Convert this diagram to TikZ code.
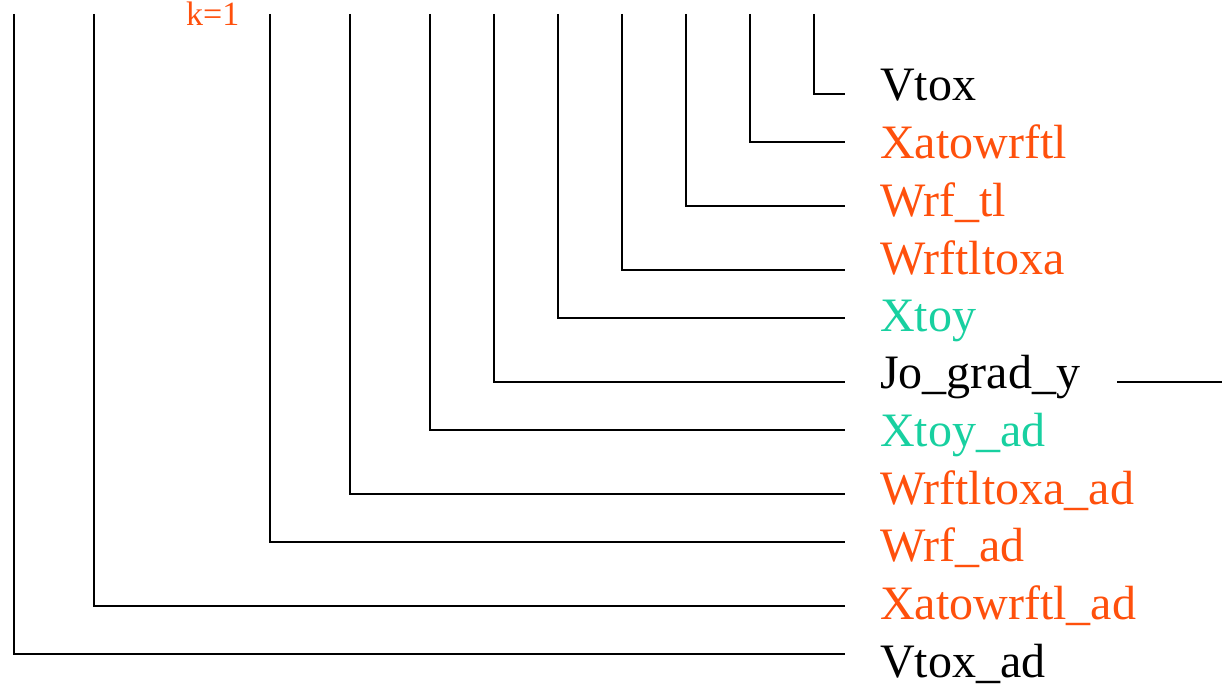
\documentclass[tikz,border=0pt]{standalone}
\usepackage{fontspec}
\setmainfont{Liberation Serif}
\usetikzlibrary{positioning}
\definecolor{orng}{RGB}{255,80,12}
\definecolor{teal}{RGB}{24,208,160}

\begin{document}
\begin{tikzpicture}[x=1pt,y=-1pt]
\tikzstyle{every node}+=[inner sep=0pt]
\tikzstyle{lab}=[anchor=base west,font=\fontsize{48}{52}\selectfont]
\tikzstyle{wire}=[black,line width=1.3pt]
\useasboundingbox (0,0) rectangle (1222,685);
\node [anchor=base west,orng,font=\fontsize{34}{38}\selectfont] (k) at (186,26) {k=1};
% tops of the vertical lines
\coordinate (t1) at (814,14);
\coordinate (t2) at (750,14);
\coordinate (t3) at (686,14);
\coordinate (t4) at (622,14);
\coordinate (t5) at (558,14);
\coordinate (t6) at (494,14);
\coordinate (t7) at (430,14);
\coordinate (t8) at (350,14);
\coordinate (t9) at (270,14);
\coordinate (t10) at (94,14);
\coordinate (t11) at (14,14);
% ends of the horizontal lines
\coordinate (e1) at (845,94);
\coordinate (e2) at (845,142);
\coordinate (e3) at (845,206);
\coordinate (e4) at (845,270);
\coordinate (e5) at (845,318);
\coordinate (e6) at (845,382);
\coordinate (e7) at (845,430);
\coordinate (e8) at (845,494);
\coordinate (e9) at (845,542);
\coordinate (e10) at (845,606);
\coordinate (e11) at (845,654);
% labels
\node [lab] (vtox) at (880,100) {Vtox};
\node [lab,orng] (xatowrftl) at (880,158) {Xatowrftl};
\node [lab,orng] (wrftl) at (880,216) {Wrf\_tl};
\node [lab,orng] (wrftltoxa) at (880,274) {Wrftltoxa};
\node [lab,teal] (xtoy) at (880,331) {Xtoy};
\node [lab] (jograd) at (880,388) {Jo\_grad\_y};
\node [lab,teal] (xtoyad) at (880,446) {Xtoy\_ad};
\node [lab,orng] (wrftltoxaad) at (880,504) {Wrftltoxa\_ad};
\node [lab,orng] (wrfad) at (880,561) {Wrf\_ad};
\node [lab,orng] (xatowrftlad) at (880,619) {Xatowrftl\_ad};
\node [lab] (vtoxad) at (880,677) {Vtox\_ad};
\coordinate (o1) at (1117,382);
\coordinate (o2) at (1222,382);
% connectors
\draw [wire] (t1) |- (e1);
\draw [wire] (t2) |- (e2);
\draw [wire] (t3) |- (e3);
\draw [wire] (t4) |- (e4);
\draw [wire] (t5) |- (e5);
\draw [wire] (t6) |- (e6);
\draw [wire] (t7) |- (e7);
\draw [wire] (t8) |- (e8);
\draw [wire] (t9) |- (e9);
\draw [wire] (t10) |- (e10);
\draw [wire] (t11) |- (e11);
\draw [wire] (o1) -- (o2);
\end{tikzpicture}
\end{document}
